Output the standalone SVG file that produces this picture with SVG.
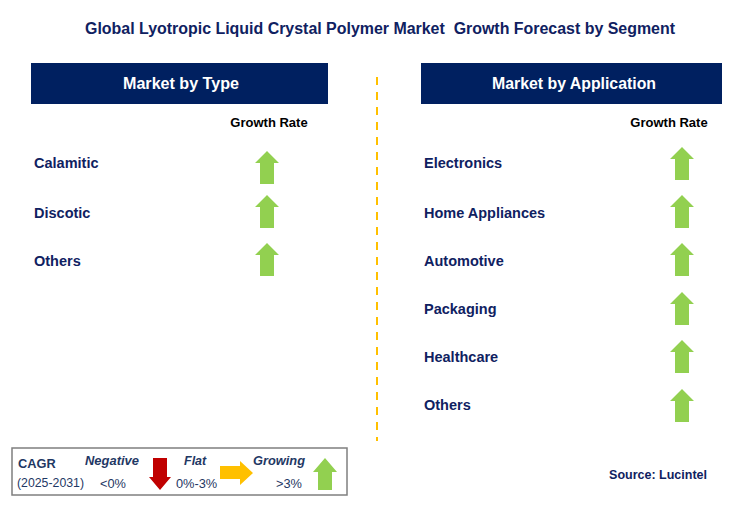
<svg xmlns="http://www.w3.org/2000/svg" width="741" height="512" viewBox="0 0 741 512">
<style>
  .title{font-family:"Liberation Sans",Arial,sans-serif;font-weight:bold;font-size:16px;fill:#0f2161}
  .hdr{font-family:"Liberation Sans",Arial,sans-serif;font-weight:bold;font-size:16px;fill:#ffffff}
  .hbox{fill:#002060}
  .gr{font-family:"Liberation Sans",Arial,sans-serif;font-weight:bold;font-size:13px;fill:#000000}
  .lbl{font-family:"Liberation Sans",Arial,sans-serif;font-weight:bold;font-size:14.5px;fill:#0f2161}
  .up{fill:#92d050}
  .lg{font-family:"Liberation Sans",Arial,sans-serif;font-size:12.8px;fill:#1f3864}
  .lgb{font-family:"Liberation Sans",Arial,sans-serif;font-size:12.5px;font-weight:bold;font-style:italic;fill:#1f3864}
  .src{font-family:"Liberation Sans",Arial,sans-serif;font-weight:bold;font-size:12.5px;fill:#0f2161}
</style>
<defs>
  <path id="upArrow" d="M0,0 L12,12 L7,12 L7,33 L-7,33 L-7,12 L-12,12 Z"/>
</defs>
<rect width="741" height="512" fill="#ffffff"/>
<text class="title" x="380" y="34" text-anchor="middle" textLength="590" lengthAdjust="spacingAndGlyphs" xml:space="preserve">Global Lyotropic Liquid Crystal Polymer Market  Growth Forecast by Segment</text>

<g id="header-type">
  <rect class="hbox" x="31" y="63" width="297" height="41"/>
  <text class="hdr" x="181" y="89" text-anchor="middle" textLength="116" lengthAdjust="spacingAndGlyphs">Market by Type</text>
</g>
<g id="header-application">
  <rect class="hbox" x="421" y="63" width="301" height="41"/>
  <text class="hdr" x="574" y="89" text-anchor="middle" textLength="164" lengthAdjust="spacingAndGlyphs">Market by Application</text>
</g>

<g id="connectors">
  <line x1="377" y1="77" x2="377" y2="441" stroke="#ffc000" stroke-width="2" stroke-dasharray="8 7"/>
</g>

<text class="gr" x="269" y="127" text-anchor="middle">Growth Rate</text>
<text class="gr" x="669" y="127" text-anchor="middle">Growth Rate</text>

<g id="type-calamitic">
  <text class="lbl" x="34" y="168">Calamitic</text>
  <use href="#upArrow" class="up" x="267" y="151"/>
</g>
<g id="type-discotic">
  <text class="lbl" x="34" y="218">Discotic</text>
  <use href="#upArrow" class="up" x="267" y="195"/>
</g>
<g id="type-others">
  <text class="lbl" x="34" y="266">Others</text>
  <use href="#upArrow" class="up" x="267" y="243"/>
</g>

<g id="app-electronics">
  <text class="lbl" x="424" y="168">Electronics</text>
  <use href="#upArrow" class="up" x="682" y="147"/>
</g>
<g id="app-home-appliances">
  <text class="lbl" x="424" y="218">Home Appliances</text>
  <use href="#upArrow" class="up" x="682" y="195"/>
</g>
<g id="app-automotive">
  <text class="lbl" x="424" y="266">Automotive</text>
  <use href="#upArrow" class="up" x="682" y="243"/>
</g>
<g id="app-packaging">
  <text class="lbl" x="424" y="314">Packaging</text>
  <use href="#upArrow" class="up" x="682" y="292"/>
</g>
<g id="app-healthcare">
  <text class="lbl" x="424" y="362">Healthcare</text>
  <use href="#upArrow" class="up" x="682" y="340"/>
</g>
<g id="app-others">
  <text class="lbl" x="424" y="410">Others</text>
  <use href="#upArrow" class="up" x="682" y="389"/>
</g>

<g id="legend">
  <rect x="12" y="448" width="335" height="47" fill="#ffffff" stroke="#7f7f7f" stroke-width="1.5"/>
  <text class="lg" x="18" y="468" font-weight="bold" font-size="12.5">CAGR</text>
  <text class="lg" x="17" y="487" textLength="67" lengthAdjust="spacingAndGlyphs">(2025-2031)</text>
  <text class="lgb" x="85" y="465" textLength="54" lengthAdjust="spacingAndGlyphs">Negative</text>
  <text class="lg" x="100" y="488">&lt;0%</text>
  <path d="M153,458 L167,458 L167,477 L171,477 L160,490 L149,477 L153,477 Z" fill="#c00000"/>
  <text class="lgb" x="184" y="465">Flat</text>
  <text class="lg" x="176" y="488">0%-3%</text>
  <path d="M220,466 L240,466 L240,461 L253,473 L240,485 L240,479 L220,479 Z" fill="#ffc000"/>
  <text class="lgb" x="253" y="465" textLength="52" lengthAdjust="spacingAndGlyphs">Growing</text>
  <text class="lg" x="276" y="488">&gt;3%</text>
  <path d="M325,458 L337,472 L332,472 L332,490 L318,490 L318,472 L313,472 Z" fill="#92d050"/>
</g>

<text class="src" x="707" y="479" text-anchor="end">Source: Lucintel</text>
</svg>
